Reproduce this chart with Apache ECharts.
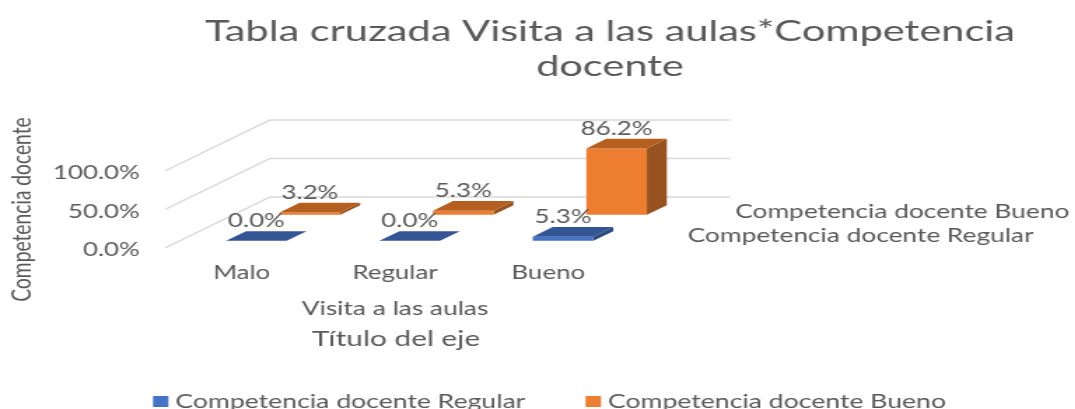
<!DOCTYPE html>
<html>
<head>
<meta charset="utf-8">
<style>
  html, body { margin: 0; padding: 0; background: #fff; overflow: hidden; }
  /* la imagen original esta estirada en horizontal */
  #chart { width: 768px; height: 409px; transform: scaleX(1.4); transform-origin: 0 0; }
</style>
<script src="https://cdn.jsdelivr.net/npm/echarts@6/dist/echarts.min.js"></script>
</head>
<body>
<div id="chart"></div>
<script>
const categories = ["Malo", "Regular", "Bueno"];
const valuesRegular = [0.0, 0.0, 5.3];
const valuesBueno = [3.2, 5.3, 86.2];
const valueTicks = [0, 50, 100];
const nameRegular = "Competencia docente Regular";
const nameBueno = "Competencia docente Bueno";

const S = 1.4;
const FONT = "Lato";
const GREY = "#595959";
// proyeccion del eje de profundidad
const DX = 105 / S;
const DY = -51;
const ROW_REGULAR = [0.14, 0.33];
const ROW_BUENO = [0.65, 0.84];
const BAR_RATIO = 0.395;

function shift(p, depth) {
  return [p[0] + DX * depth, p[1] + DY * depth];
}

function box(row, colors) {
  return function (params, api) {
    const cat = api.value(0);
    const val = api.value(1);
    const base = api.coord([cat, 0]);
    const top = api.coord([cat, val]);
    const half = api.size([1, 0])[0] * BAR_RATIO / 2;
    const corner = function (side, y, depth) {
      return shift([base[0] + side * half, y], depth);
    };
    const fl = corner(-1, top[1], row[0]);
    const fr = corner(1, top[1], row[0]);
    const bl = corner(-1, top[1], row[1]);
    const br = corner(1, top[1], row[1]);
    const ffl = corner(-1, base[1], row[0]);
    const ffr = corner(1, base[1], row[0]);
    const fbr = corner(1, base[1], row[1]);
    const label = shift([base[0], top[1]], row[0]);
    return {
      type: "group",
      children: [
        { type: "polygon", shape: { points: [fr, br, fbr, ffr] }, style: { fill: colors.side } },
        { type: "polygon", shape: { points: [fl, fr, ffr, ffl] }, style: { fill: colors.front } },
        { type: "polygon", shape: { points: [fl, bl, br, fr] }, style: { fill: colors.top } },
        {
          type: "text",
          z2: 10,
          style: {
            x: label[0],
            y: label[1] - 19.5,
            text: val.toFixed(1) + "%",
            fill: GREY,
            font: "18.5px " + FONT,
            textAlign: "center",
            textVerticalAlign: "middle",
          },
        },
      ],
    };
  };
}

const option = {
  animation: false,
  backgroundColor: "#fff",
  title: [
    {
      text: "Tabla cruzada Visita a las aulas*Competencia\ndocente",
      left: 610 / S,
      top: 14,
      padding: 0,
      textAlign: "center",
      textStyle: { color: GREY, fontFamily: FONT, fontSize: 29.7, fontWeight: "normal", lineHeight: 35 },
    },
    {
      text: "Título del eje",
      left: 396 / S,
      top: 329,
      padding: 0,
      textAlign: "center",
      textStyle: { color: GREY, fontFamily: FONT, fontSize: 21.3, fontWeight: "normal" },
    },
  ],
  legend: {
    data: [nameRegular, nameBueno],
    left: 153 / S,
    top: 392,
    padding: 0,
    icon: "rect",
    itemWidth: 11,
    itemHeight: 11,
    itemGap: 43,
    textStyle: { color: GREY, fontFamily: FONT, fontSize: 19 },
  },
  grid: { left: 165 / S, width: 460 / S, top: 171, height: 77 },
  xAxis: {
    type: "category",
    data: categories,
    axisLine: { show: false },
    axisTick: { show: false },
    axisLabel: { color: GREY, fontFamily: FONT, fontSize: 18.5, margin: 16, interval: 0 },
    name: "Visita a las aulas",
    nameLocation: "middle",
    nameGap: 51,
    nameTextStyle: { color: GREY, fontFamily: FONT, fontSize: 18.8 },
  },
  yAxis: {
    type: "value",
    min: 0,
    max: 100,
    interval: 50,
    axisLine: { show: false },
    axisTick: { show: false },
    splitLine: { show: false },
    axisLabel: {
      color: GREY,
      fontFamily: FONT,
      fontSize: 18.5,
      margin: 18,
      verticalAlign: "top",
      lineHeight: 5,
      formatter: function (v) { return v.toFixed(1) + "%"; },
    },
    name: "Competencia docente",
    nameLocation: "middle",
    nameRotate: 90,
    nameGap: 93,
    nameTextStyle: { color: GREY, fontFamily: FONT, fontSize: 19.2 },
  },
  series: [
    {
      type: "custom",
      name: "lineas",
      silent: true,
      data: valueTicks.map(function (t) { return [0, t]; }),
      renderItem: function (params, api) {
        const v = api.value(1);
        const half = api.size([1, 0])[0] / 2;
        // el eje de categorias redondea, por eso se parte del centro de cada banda
        const first = api.coord([0, v]);
        const last = api.coord([categories.length - 1, v]);
        const start = [first[0] - half, first[1]];
        const end = [last[0] + half, last[1]];
        return {
          type: "polyline",
          shape: { points: [start, shift(start, 1), shift(end, 1)] },
          style: { stroke: "#d9d9d9", lineWidth: 1.5, fill: null },
        };
      },
    },
    {
      type: "custom",
      name: "rotulos",
      silent: true,
      data: [[categories.length - 1, 0]],
      renderItem: function (params, api) {
        const half = api.size([1, 0])[0] / 2;
        const last = api.coord([api.value(0), 0]);
        const p = [last[0] + half, last[1]];
        const rows = [[nameRegular, ROW_REGULAR, 38, 0], [nameBueno, ROW_BUENO, 32, 2]];
        return {
          type: "group",
          children: rows.map(function (r) {
            const pos = shift(p, (r[1][0] + r[1][1]) / 2);
            return {
              type: "text",
              style: {
                x: pos[0] + r[2] / S,
                y: pos[1] + r[3],
                text: r[0],
                fill: GREY,
                font: "18.8px " + FONT,
                textAlign: "left",
                textVerticalAlign: "middle",
              },
            };
          }),
        };
      },
    },
    {
      type: "custom",
      name: nameBueno,
      itemStyle: { color: "#ed7d31" },
      data: valuesBueno.map(function (v, i) { return [i, v]; }),
      renderItem: box(ROW_BUENO, { front: "#ed7d31", top: "#b45f20", side: "#98521f" }),
    },
    {
      type: "custom",
      name: nameRegular,
      itemStyle: { color: "#4472c4" },
      data: valuesRegular.map(function (v, i) { return [i, v]; }),
      renderItem: box(ROW_REGULAR, { front: "#4472c4", top: "#335593", side: "#2b4a80" }),
    },
  ],
};

const chart = echarts.init(document.getElementById("chart"));
chart.setOption(option);
</script>
</body>
</html>
